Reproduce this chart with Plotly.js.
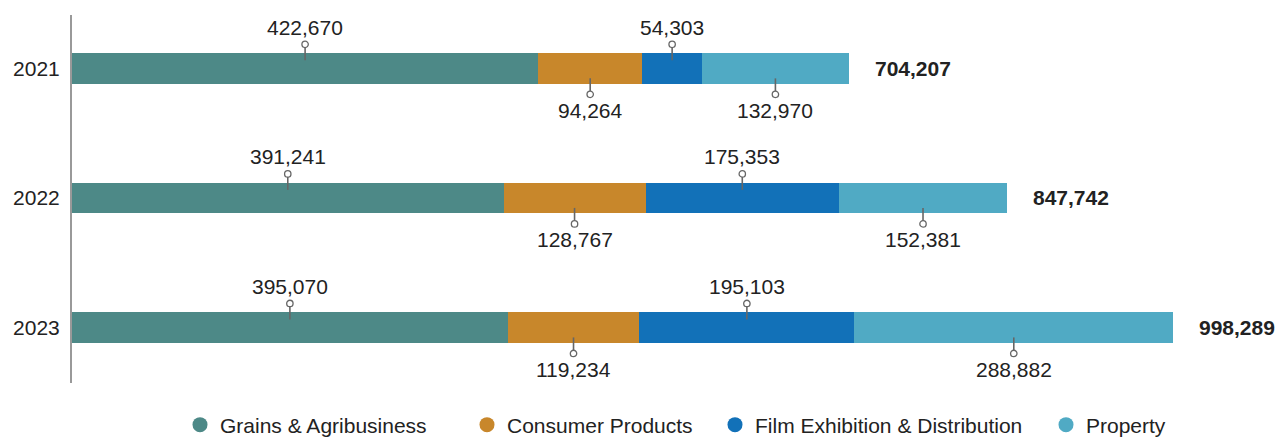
<!DOCTYPE html>
<html>
<head>
<meta charset="utf-8">
<script src="https://cdn.plot.ly/plotly-3.0.1.min.js"></script>
<style>html,body{margin:0;padding:0;background:#fff;}#chart{width:1278px;height:438px;}</style>
</head>
<body>
<div id="chart"></div>
<script>
// ---- data ----
const years = ["2021", "2022", "2023"];
const seriesNames = ["Grains & Agribusiness", "Consumer Products", "Film Exhibition & Distribution", "Property"];
const grains   = [422670, 391241, 395070];
const consumer = [94264, 128767, 119234];
const film     = [54303, 175353, 195103];
const property = [132970, 152381, 288882];
const colors = ["#4d8987", "#c8872b", "#1271b8", "#50aac4"];

// ---- build ----
const series = [grains, consumer, film, property];
const labelAbove = [true, false, true, false];
const yIdx = years.map((_, i) => i);
const fmt = v => v.toLocaleString("en-US");
const FONT = "Arial, 'Liberation Sans', sans-serif";
const TXT = "#222222";
const legendIds = ["legend", "legend2", "legend3", "legend4"];
const legendCirclePx = [201, 488, 736, 1067];

const traces = [];
series.forEach((vals, s) => {
  traces.push({
    type: "bar", orientation: "h", x: vals, y: yIdx, width: 0.237,
    marker: {color: colors[s], line: {width: 0}},
    name: seriesNames[s], showlegend: false, hoverinfo: "x+name"
  });
});
// legend entries with circle symbols, one legend box each
series.forEach((vals, s) => {
  traces.push({
    type: "scatter", mode: "markers", x: [null], y: [null],
    marker: {color: colors[s], size: 15, symbol: "circle"},
    name: seriesNames[s], showlegend: true, hoverinfo: "skip",
    legend: legendIds[s]
  });
});

const shapes = [];
const annotations = [];
years.forEach((yr, i) => {
  let cum = 0;
  series.forEach((vals, s) => {
    const v = vals[i];
    const xc = cum + v / 2;
    cum += v;
    const up = labelAbove[s];
    const sign = up ? 1 : -1;
    const lineStart = up ? 8 : 10;
    const circ = up ? 24 : 26;
    shapes.push({
      type: "line", xref: "x", yref: "y", ysizemode: "pixel", yanchor: i,
      x0: xc, x1: xc, y0: sign * lineStart, y1: sign * (circ - 3),
      line: {color: "#666666", width: 1.6}
    });
    shapes.push({
      type: "circle", xref: "x", yref: "y", xsizemode: "pixel", ysizemode: "pixel",
      xanchor: xc, yanchor: i, x0: -3.2, x1: 3.2, y0: sign * circ - 3.2, y1: sign * circ + 3.2,
      fillcolor: "#ffffff", line: {color: "#666666", width: 1.3}
    });
    annotations.push({
      x: xc, y: i, xref: "x", yref: "y", showarrow: false,
      text: fmt(v), yshift: up ? 41 : -42, yanchor: "middle", xanchor: "center",
      font: {family: FONT, size: 21, color: TXT}
    });
  });
  annotations.push({
    x: cum, y: i, xref: "x", yref: "y", showarrow: false,
    text: "<b>" + fmt(cum) + "</b>", xanchor: "left", yanchor: "middle", xshift: 24,
    font: {family: FONT, size: 21, color: TXT}
  });
});

const L = 72, scale = 0.001103;
const layout = {
  width: 1278, height: 438,
  margin: {l: L, r: 0, t: 15, b: 55, autoexpand: false},
  paper_bgcolor: "#ffffff", plot_bgcolor: "#ffffff",
  barmode: "stack",
  showlegend: true,
  xaxis: {visible: false, range: [0, (1278 - L) / scale], fixedrange: true},
  yaxis: {
    range: [2.429, -0.412], tickvals: yIdx, ticktext: years,
    showline: true, linecolor: "#999999", linewidth: 2,
    showgrid: false, zeroline: false, ticks: "", ticklabelstandoff: 6,
    tickfont: {family: FONT, size: 21, color: TXT}, fixedrange: true
  },
  shapes: shapes,
  annotations: annotations,
  font: {family: FONT, color: TXT}
};
legendIds.forEach((id, s) => {
  layout[id] = {
    orientation: "h", xref: "container", x: (legendCirclePx[s] - 21) / 1278, xanchor: "left",
    yref: "container", y: 13 / 438, yanchor: "middle",
    font: {family: FONT, size: 21, color: TXT}, traceorder: "normal",
    itemclick: false, itemdoubleclick: false, bgcolor: "rgba(0,0,0,0)"
  };
});

Plotly.newPlot("chart", traces, layout, {displayModeBar: false, staticPlot: true});
</script>
</body>
</html>
